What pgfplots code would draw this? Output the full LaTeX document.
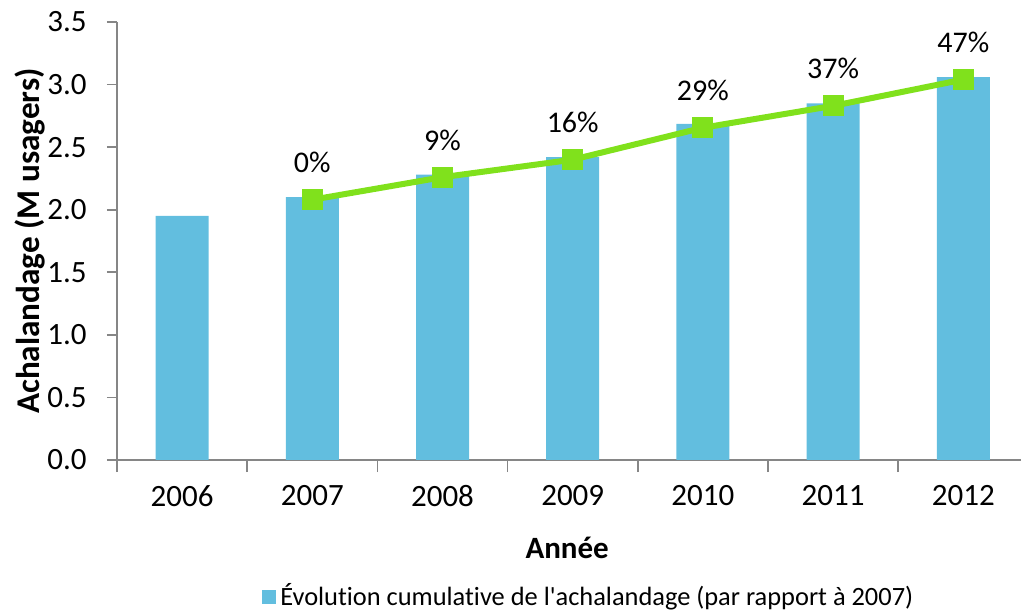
\documentclass[border=0pt]{standalone}
\usepackage{fontspec}
\setmainfont{Carlito}[Ligatures={NoCommon}]
\usepackage{pgfplots}
\pgfplotsset{compat=1.18}
\definecolor{barblue}{RGB}{98,190,223}
\definecolor{linegreen}{RGB}{128,225,28}
\definecolor{axgray}{RGB}{134,134,134}
\begin{document}
\fontsize{15}{18}\selectfont
\begin{tikzpicture}
\useasboundingbox (-58.5pt,-77pt) rectangle (452pt,230pt);
\begin{axis}[
  scale only axis, width=452pt, height=219pt,
  xmin=-0.5, xmax=6.443, ymin=0, ymax=3.5,
  axis x line=bottom, axis y line=left,
  axis line style={draw=axgray, line width=0.8pt, -},
  tick align=outside,
  tick style={draw=axgray, line width=0.8pt},
  major tick length=5pt, minor tick length=6pt,
  ytick={0,0.5,...,3.5},
  yticklabel style={/pgf/number format/fixed, /pgf/number format/fixed zerofill, /pgf/number format/precision=1, /pgf/number format/assume math mode=true, font=\fontsize{15.5}{18}\selectfont, xshift=-5pt},
  xtick={0,...,6},
  xticklabels={2006,2007,2008,2009,2010,2011,2012},
  major x tick style={draw=none},
  minor xtick={-0.5,0.5,1.5,2.5,3.5,4.5,5.5},
  xticklabel style={font=\fontsize{15.5}{18}\selectfont, yshift=-2.5pt},
  xlabel={\textbf{Année}},
  ylabel={\textbf{Achalandage (M usagers)}},
  xlabel style={at={(axis description cs:0.498,-0.2009)}, anchor=center, font=\fontsize{15.5}{18}\selectfont},
  ylabel style={at={(axis description cs:-0.0962,0.5)}, anchor=center, font=\fontsize{16.6}{19}\selectfont},
  legend style={draw=none, at={(axis description cs:0.523,-0.3128)}, anchor=center, font=\fontsize{13.2}{16}\selectfont},
  legend image code/.code={\fill[barblue] (0pt,-3.5pt) rectangle (7pt,3.5pt);},
  clip=false,
]
\addplot[ybar, bar width=26.5pt, fill=barblue, draw=none] coordinates {
  (0,1.95) (1,2.10) (2,2.28) (3,2.42) (4,2.685) (5,2.85) (6,3.06)
};
\addlegendentry{Évolution cumulative de l\textquotesingle{}achalandage (par rapport à 2007)}
\addplot[forget plot, linegreen, line width=3pt, mark=square*, mark size=3.75pt,
  mark options={fill=linegreen, draw=none},
  point meta=explicit symbolic,
  nodes near coords,
  every node near coord/.append style={anchor=center, yshift=18.5pt, text=black, font=\fontsize{15}{18}\selectfont}]
 coordinates {
  (1,2.08) [0\%] (2,2.26) [9\%] (3,2.40) [16\%] (4,2.655) [29\%] (5,2.83) [37\%] (6,3.04) [47\%]
};
\end{axis}
\end{tikzpicture}
\end{document}
